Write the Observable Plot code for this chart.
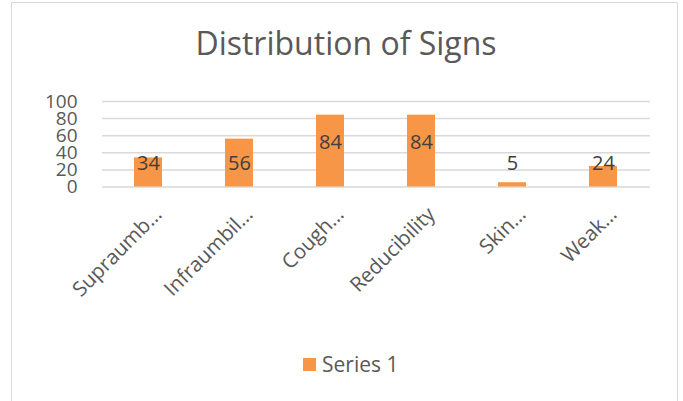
<!DOCTYPE html>
<html>
<head>
<meta charset="utf-8">
<script src="https://cdn.jsdelivr.net/npm/d3@7"></script>
<script src="https://cdn.jsdelivr.net/npm/@observablehq/plot@0.6"></script>
<style>
  html, body { margin: 0; padding: 0; width: 683px; height: 401px; overflow: hidden; background: #fff; }
  #frame { position: absolute; left: 11px; top: 2px; width: 667px; height: 440px; border: 1.5px solid #d9d9d9; box-sizing: border-box; }
  #title { position: absolute; left: 0; top: 22px; width: 692px; text-align: center; font-family: "Open Sans", sans-serif; font-size: 32px; line-height: 42px; color: #595959; }
  #chart { position: absolute; left: 0; top: 0; }
  #legend { position: absolute; left: 303px; top: 350px; font-family: "Open Sans", sans-serif; font-size: 21px; line-height: 28px; color: #595959; display: flex; align-items: center; }
  #legend .sw { width: 13px; height: 13px; background: #f79646; margin-right: 6px; }
</style>
</head>
<body>
<div id="frame"></div>
<div id="chart"></div>
<div id="title">Distribution of Signs</div>
<div id="legend"><span class="sw"></span><span>Series 1</span></div>
<script>
const categories = ["Supraumb…", "Infraumbil…", "Cough…", "Reducibility", "Skin…", "Weak…"];
const values = [34, 56, 84, 84, 5, 24];
const yTicks = [0, 20, 40, 60, 80, 100];
const seriesName = "Series 1";

const data = categories.map((c, i) => ({category: c, value: values[i]}));

const plot = Plot.plot({
  width: 683,
  height: 401,
  marginLeft: 102,
  marginRight: 33,
  marginTop: 101,
  marginBottom: 214.5,
  style: {fontFamily: "'Open Sans', sans-serif", color: "#595959", background: "transparent"},
  x: {domain: categories, paddingInner: 0.69, paddingOuter: 0.345, label: null},
  y: {domain: [0, 100], label: null},
  marks: [
    Plot.gridY(yTicks, {stroke: "#d9d9d9", strokeOpacity: 1, strokeWidth: 1.5}),
    Plot.axisY(yTicks, {tickSize: 0, tickPadding: 25, fontSize: 19, fill: "#595959", label: null}),
    Plot.barY(data, {x: "category", y: "value", fill: "#f79646"}),
    Plot.axisX({tickSize: 0, tickPadding: 24, tickRotate: -45, fontSize: 20.5, fill: "#595959", label: null, dx: 10}),
    Plot.text(data, {x: "category", y: d => Math.max(d.value - 32.5, 27.5), text: d => String(d.value), fontSize: 20, fill: "#404040", lineAnchor: "middle"})
  ]
});
document.getElementById("chart").appendChild(plot);
</script>
</body>
</html>
